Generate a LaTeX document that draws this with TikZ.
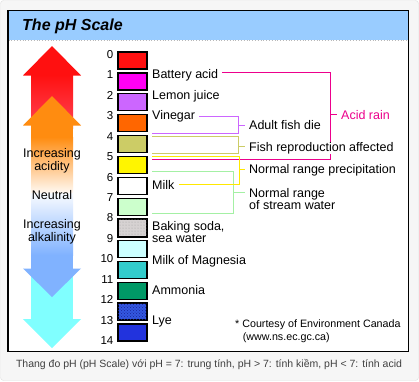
\documentclass[tikz,border=0pt]{standalone}
\usepackage{fontspec}
\setmainfont{Liberation Sans}
\usepackage{tikz}
\usetikzlibrary{patterns}
\usetikzlibrary{positioning}
\definecolor{titleblue}{HTML}{99CCFF}
\definecolor{phred}{HTML}{FF1010}
\definecolor{phpink}{HTML}{FF4454}
\definecolor{phmag}{HTML}{FF00F4}
\definecolor{phpurple}{HTML}{CC66FF}
\definecolor{phorange}{HTML}{FF8C10}
\definecolor{phamber}{HTML}{FF6600}
\definecolor{pholive}{HTML}{CCCC66}
\definecolor{phyellow}{HTML}{FFF500}
\definecolor{phlgreen}{HTML}{CCFFCC}
\definecolor{phgray}{HTML}{D6D2D2}
\definecolor{phlcyan}{HTML}{CCFFFF}
\definecolor{phteal}{HTML}{33CCCC}
\definecolor{phgreen}{HTML}{009966}
\definecolor{phcheck}{HTML}{3458E0}
\definecolor{phdeep}{HTML}{2233DD}
\definecolor{phblue}{HTML}{80B2FF}
\definecolor{phcyan}{HTML}{80FFFF}
\definecolor{linegreen}{HTML}{A4F0A4}
\definecolor{lineyellow}{HTML}{FFE800}
\tikzset{swatch/.style = {draw, line width = 1.2pt, minimum width = 29, minimum height = 17, inner sep = 0}}
\tikzset{phnum/.style = {font = \fontsize{11.5}{13}\selectfont, inner sep = 0, anchor = east}}
\tikzset{itemtext/.style = {font = \fontsize{12.5}{14}\selectfont, inner sep = 0, anchor = base west}}
\tikzset{sidetext/.style = {font = \fontsize{12.5}{14}\selectfont, inner sep = 0, anchor = base}}
\tikzset{bracket/.style = {line width = 0.9pt}}

\begin{document}
\begin{tikzpicture}[x=1pt, y=-1pt]
  \useasboundingbox (0, 0) rectangle (419, 381);
  \draw [gray!25, fill=gray!7, rounded corners=3pt] (0.5, 0.5) rectangle (418.5, 380.5);
  \fill [white] (8, 10.5) rectangle (408.5, 351.5);
  \fill [titleblue] (8, 10.5) rectangle (408.5, 39.5);
  \draw [gray!55, dotted, line width=0.8pt] (8.5, 40.3) -- (408, 40.3);
  \node [anchor=base west, inner sep=0, font=\fontsize{16}{19}\selectfont\bfseries\itshape] (title) at (22, 30.7) {The pH Scale};

  % arrows on the left
  \fill [phcyan] (31, 250) rectangle (73, 319.5);
  \fill [phcyan] (23, 319) -- (81, 319) -- (52, 348) -- cycle;
  \shade [top color=white, bottom color=phblue] (31, 190) rectangle (73, 255);
  \fill [phblue] (31, 254.5) rectangle (73, 269);
  \fill [phblue] (23, 268.5) -- (81, 268.5) -- (52, 297) -- cycle;

  \shade [top color=phred, bottom color=phpink] (31, 75) rectangle (73, 128);
  \fill [phred] (23, 75.5) -- (81, 75.5) -- (52, 46) -- cycle;
  \fill [phorange] (31, 125) rectangle (73, 137.5);
  \shade [top color=phorange, bottom color=orange!6!white] (31, 137) rectangle (73, 192);
  \fill [phorange] (23, 125.5) -- (81, 125.5) -- (52, 96) -- cycle;

  \node [sidetext] (acidA) at (52, 157.7) {Increasing};
  \node [sidetext] (acidB) at (52, 170.7) {acidity};
  \node [sidetext] (neutral) at (52, 199.3) {Neutral};
  \node [sidetext] (alkA) at (52, 228.3) {Increasing};
  \node [sidetext] (alkB) at (52, 241.7) {alkalinity};

  % colour scale
  \foreach \c [count=\i from 0] in {phred, phmag, phpurple, phamber, pholive, phyellow, white,
                                    phlgreen, phgray, phlcyan, phteal, phgreen, phcheck, phdeep}
    \node [swatch, fill=\c] (sw\i) at (132.5, {60.5 + 20.92*\i}) {};
  \fill [pattern=dots, pattern color=gray!75] (sw8.south west) rectangle (sw8.north east);
  \fill [pattern=crosshatch dots, pattern color=phdeep!70!black] (sw12.south west) rectangle (sw12.north east);
  \draw [line width=1.2pt] (sw8.south west) rectangle (sw8.north east);
  \draw [line width=1.2pt] (sw12.south west) rectangle (sw12.north east);

  \foreach \n in {0, ..., 14}
    \node [phnum] (num\n) at (113.5, {54.5 + 20.43*\n}) {\n};

  % substances
  \node [itemtext] (battery) at (152, 78.7) {Battery acid};
  \node [itemtext] (lemon) at (152, 99.3) {Lemon juice};
  \node [itemtext] (vinegar) at (152, 119) {Vinegar};
  \node [itemtext] (milk) at (152, 189) {Milk};
  \node [itemtext] (bakingA) at (152, 230) {Baking soda,};
  \node [itemtext] (bakingB) at (152, 242.7) {sea water};
  \node [itemtext] (magnesia) at (152, 264) {Milk of Magnesia};
  \node [itemtext] (ammonia) at (152, 294.7) {Ammonia};
  \node [itemtext] (lye) at (152, 324) {Lye};

  % acid rain bracket, under the labels
  \node [itemtext, text=magenta] (rain) at (341, 119) {Acid rain};
  \coordinate (rainTick) at (330, 114.5);
  \draw [bracket, magenta] ([xshift=4pt]battery.east |- 0, 72.5) -| (330, 159) -- (152, 159);
  \draw [bracket, magenta, shorten >=4pt] (rainTick) -- (rainTick -| rain.west);

  % effects
  \node [itemtext] (fishdie) at (249, 129.3) {Adult fish die};
  \node [itemtext, fill=white, inner xsep=1pt] (repro) at (248, 151) {Fish reproduction affected};
  \node [itemtext] (precip) at (249, 173.3) {Normal range precipitation};
  \node [itemtext] (streamA) at (249, 197.3) {Normal range};
  \node [itemtext] (streamB) at (249, 209) {of stream water};
  \node [anchor=base west, inner sep=0, font=\fontsize{10.7}{13}\selectfont] (note) at (235, 327.7) {* Courtesy of Environment Canada};
  \node [anchor=base west, inner sep=0, font=\fontsize{10.7}{13}\selectfont] (site) at (242.7, 340.3) {(www.ns.ec.gc.ca)};

  % brackets
  \coordinate (streamTick) at (233.5, 192);
  \draw [bracket, linegreen] (152, 171) -| (233.5, 213) -- (152, 213);
  \draw [bracket, linegreen, shorten >=4pt] (streamTick) -- (streamTick -| streamA.west);

  \coordinate (precipTick) at (239, 169);
  \draw [bracket, lineyellow] (152, 156.5) -| (239, 184.5) -- ([xshift=4pt]milk.east |- 0, 184.5);
  \draw [bracket, lineyellow, shorten >=4pt] (precipTick) -- (precipTick -| precip.west);

  \coordinate (reproTick) at (238.5, 146.7);
  \draw [bracket, pholive] (152, 136.5) -| (238.5, 153.5) -- (152, 153.5);
  \draw [bracket, pholive, shorten >=3pt] (reproTick) -- (reproTick -| repro.west);

  \coordinate (dieTick) at (238.5, 125);
  \draw [bracket, phpurple] ([xshift=4pt]vinegar.east |- 0, 116.7) -| (238.5, 133) -- (152, 133);
  \draw [bracket, phpurple, shorten >=4pt] (dieTick) -- (dieTick -| fishdie.west);

  % magenta bottom line lies over the others
  \draw [bracket, magenta] (238, 159) -- (152, 159);

  % frame and caption
  \draw [line width=1.3pt] (8, 10.5) rectangle (408.5, 351.5);
  \node [anchor=base, inner sep=0, text=black!75, font=\fontsize{10.5}{12}\selectfont] (caption) at (209, 367.7)
    {Thang đo pH (pH Scale) với pH = 7: trung tính, pH > 7: tính kiềm, pH < 7: tính acid};
\end{tikzpicture}
\end{document}
